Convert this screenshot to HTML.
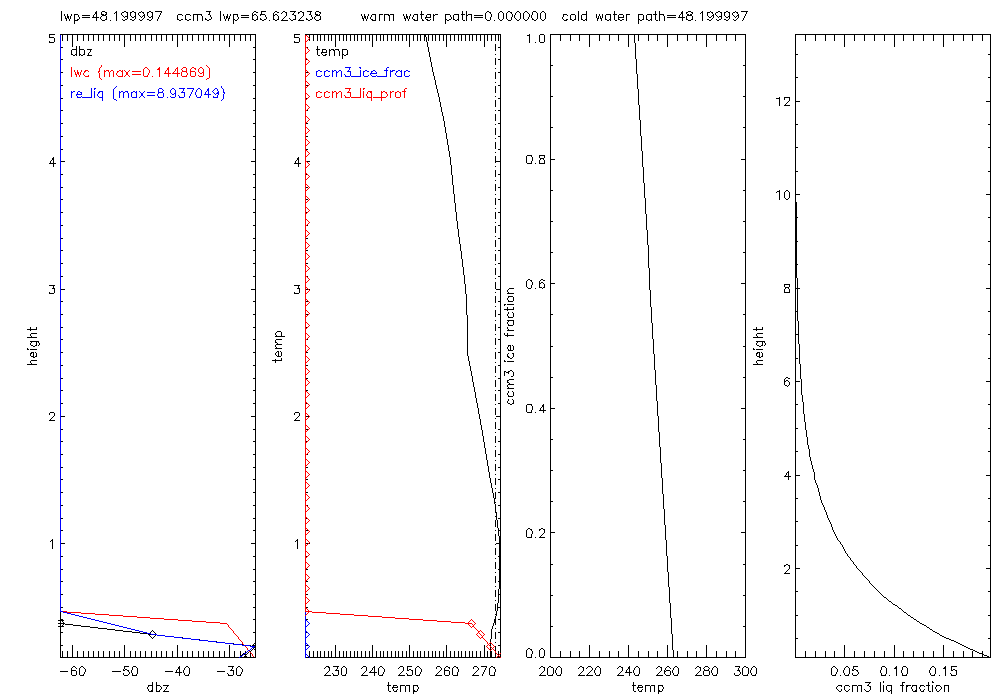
<!DOCTYPE html>
<html><head><meta charset="utf-8"><title>plot</title>
<style>
html,body{margin:0;padding:0;overflow:hidden;width:1000px;height:700px;background:#fff;font-family:"Liberation Sans",sans-serif;}
svg{display:block;}
svg path{fill:none;stroke-width:1;stroke-linecap:butt;}
</style></head><body>
<svg width="1000" height="700" viewBox="0 0 1000 700" shape-rendering="crispEdges">
<rect x="0" y="0" width="1000" height="700" fill="#fff"/>
<path stroke="#000" d="M102 11.5h3M124 11.5h2M132 11.5h2M149 11.5h2M155 11.5h7M206 11.5h5M254 11.5h2M261 11.5h5M275 11.5h2M283 11.5h2M290 11.5h6M300 11.5h2M307 11.5h5M316 11.5h3M487 11.5h2M500 11.5h2M508 11.5h2M517 11.5h2M525 11.5h2M533 11.5h3M542 11.5h2M688 11.5h3M718 11.5h2M726 11.5h2M741 11.5h7M95 12.5h2M105 12.5h2M115 12.5h2M122 12.5h2M126 12.5h2M130 12.5h2M134 12.5h2M139 12.5h2M142 12.5h2M147 12.5h2M151 12.5h2M256 12.5h2M277 12.5h2M285 12.5h2M298 12.5h2M302 12.5h2M319 12.5h2M489 12.5h2M510 12.5h2M681 12.5h2M686 12.5h2M691 12.5h2M701 12.5h2M707 12.5h3M711 12.5h2M716 12.5h2M720 12.5h2M724 12.5h2M728 12.5h2M733 12.5h2M736 12.5h2M95 13.5h2M681 13.5h2M74 14.5h4M101 14.5h3M105 14.5h2M178 14.5h4M186 14.5h4M193 14.5h9M208 14.5h2M233 14.5h5M254 14.5h2M260 14.5h5M275 14.5h2M292 14.5h2M309 14.5h2M315 14.5h3M372 14.5h4M379 14.5h4M384 14.5h5M390 14.5h4M414 14.5h4M420 14.5h4M427 14.5h4M435 14.5h3M445 14.5h5M454 14.5h5M461 14.5h4M468 14.5h4M563 14.5h4M571 14.5h4M582 14.5h5M606 14.5h5M613 14.5h4M619 14.5h4M626 14.5h4M638 14.5h5M647 14.5h5M653 14.5h4M659 14.5h5M687 14.5h2M690 14.5h2M82 15.5h8M102 15.5h4M143 15.5h2M241 15.5h8M252 15.5h2M273 15.5h2M294 15.5h2M316 15.5h4M388 15.5h2M433 15.5h2M466 15.5h2M474 15.5h9M667 15.5h9M687 15.5h5M712 15.5h2M737 15.5h2M67 16.5h2M125 16.5h3M134 16.5h2M151 16.5h2M226 16.5h2M364 16.5h2M406 16.5h2M719 16.5h3M728 16.5h2M67 17.5h2M82 17.5h8M92 17.5h7M132 17.5h2M149 17.5h2M226 17.5h2M241 17.5h8M364 17.5h2M406 17.5h2M425 17.5h6M474 17.5h9M618 17.5h6M667 17.5h9M678 17.5h7M709 17.5h2M726 17.5h2M65 18.5h2M228 18.5h2M362 18.5h2M404 18.5h2M597 18.5h2M600 18.5h2M77 19.5h2M105 19.5h2M125 19.5h2M130 19.5h2M147 19.5h2M177 19.5h2M181 19.5h2M185 19.5h2M189 19.5h2M205 19.5h2M209 19.5h2M233 19.5h2M252 19.5h2M256 19.5h2M260 19.5h2M264 19.5h2M273 19.5h2M277 19.5h2M293 19.5h3M306 19.5h2M310 19.5h2M319 19.5h2M371 19.5h2M413 19.5h2M426 19.5h2M445 19.5h2M449 19.5h2M453 19.5h2M457 19.5h2M532 19.5h2M566 19.5h2M570 19.5h2M574 19.5h2M581 19.5h2M585 19.5h2M605 19.5h2M609 19.5h2M618 19.5h2M622 19.5h2M638 19.5h2M642 19.5h2M646 19.5h2M650 19.5h2M686 19.5h2M691 19.5h2M707 19.5h2M719 19.5h2M724 19.5h2M74 20.5h4M102 20.5h3M123 20.5h2M132 20.5h2M140 20.5h2M149 20.5h2M179 20.5h2M187 20.5h2M207 20.5h2M235 20.5h2M254 20.5h2M262 20.5h2M275 20.5h2M281 20.5h7M291 20.5h2M298 20.5h6M308 20.5h2M316 20.5h3M372 20.5h4M414 20.5h4M422 20.5h2M427 20.5h3M447 20.5h2M455 20.5h2M463 20.5h2M487 20.5h3M500 20.5h2M508 20.5h3M517 20.5h2M525 20.5h2M534 20.5h2M542 20.5h2M564 20.5h3M572 20.5h2M583 20.5h2M607 20.5h2M615 20.5h2M620 20.5h2M640 20.5h2M648 20.5h2M656 20.5h2M688 20.5h3M709 20.5h2M717 20.5h2M726 20.5h2M734 20.5h2M49 34.5h6M60 34.5h196M294 34.5h6M305 34.5h196M540 34.5h4M550 34.5h196M795 34.5h196M424 35.5h2M527 35.5h3M424 36.5h2M49 37.5h5M294 37.5h5M49 42.5h5M294 42.5h5M540 42.5h4M61 47.5h2M253 47.5h3M498 47.5h3M72 49.5h5M79 49.5h5M87 49.5h5M316 49.5h4M322 49.5h4M331 49.5h3M335 49.5h4M342 49.5h5M329 50.5h2M333 50.5h2M321 52.5h6M71 54.5h2M75 54.5h2M79 54.5h2M83 54.5h2M325 54.5h2M342 54.5h2M346 54.5h2M795 54.5h3M988 54.5h3M73 55.5h2M81 55.5h2M87 55.5h5M318 55.5h2M323 55.5h3M344 55.5h2M61 59.5h2M253 59.5h3M498 59.5h3M550 65.5h3M743 65.5h3M61 72.5h2M253 72.5h3M306 72.5h2M498 72.5h3M795 77.5h3M988 77.5h3M61 85.5h2M253 85.5h3M306 85.5h2M498 85.5h3M550 96.5h3M743 96.5h3M784 97.5h6M61 98.5h2M253 98.5h3M498 98.5h3M776 98.5h4M795 101.5h5M986 101.5h5M784 105.5h6M61 110.5h2M253 110.5h3M498 110.5h3M61 123.5h2M253 123.5h3M306 123.5h2M498 123.5h3M795 124.5h3M988 124.5h3M550 127.5h3M743 127.5h3M61 136.5h2M253 136.5h3M306 136.5h2M498 136.5h3M795 147.5h3M988 147.5h3M61 149.5h2M253 149.5h3M306 149.5h2M498 149.5h3M527 155.5h5M539 155.5h6M52 158.5h2M297 158.5h2M540 158.5h4M52 159.5h2M297 159.5h2M550 159.5h5M741 159.5h5M61 161.5h4M251 161.5h5M307 161.5h3M495 161.5h6M49 163.5h7M294 163.5h7M527 163.5h5M539 163.5h6M795 171.5h3M988 171.5h3M61 174.5h2M253 174.5h3M498 174.5h3M61 187.5h2M253 187.5h3M306 187.5h2M498 187.5h3M550 190.5h3M743 190.5h3M786 190.5h2M777 191.5h3M795 194.5h5M986 194.5h5M61 199.5h2M253 199.5h3M306 199.5h2M498 199.5h3M786 199.5h2M795 202.5h2M795 203.5h2M795 204.5h2M795 205.5h2M795 206.5h2M795 207.5h2M795 208.5h2M795 209.5h2M795 210.5h2M795 211.5h2M61 212.5h2M253 212.5h3M498 212.5h3M795 212.5h2M795 213.5h2M795 214.5h2M795 215.5h2M795 216.5h2M795 217.5h3M988 217.5h3M795 218.5h2M795 219.5h2M795 220.5h2M550 221.5h3M743 221.5h3M795 221.5h2M795 222.5h2M795 223.5h2M795 224.5h2M61 225.5h2M253 225.5h3M498 225.5h3M795 225.5h2M795 226.5h2M795 227.5h2M795 228.5h2M795 229.5h2M795 230.5h2M795 231.5h2M795 232.5h2M795 233.5h2M795 234.5h2M795 235.5h2M795 236.5h2M795 237.5h2M61 238.5h2M253 238.5h3M306 238.5h2M498 238.5h3M795 238.5h2M795 239.5h2M795 240.5h2M795 241.5h3M988 241.5h3M795 242.5h2M795 243.5h2M795 244.5h2M795 245.5h2M795 246.5h2M795 247.5h2M795 248.5h2M795 249.5h2M61 250.5h2M253 250.5h3M306 250.5h2M498 250.5h3M795 250.5h2M795 251.5h2M550 252.5h3M743 252.5h3M795 252.5h2M795 253.5h2M795 254.5h2M795 255.5h2M795 256.5h2M795 257.5h2M795 258.5h2M795 259.5h2M795 260.5h2M795 261.5h2M795 262.5h2M61 263.5h2M253 263.5h3M306 263.5h2M498 263.5h3M795 263.5h2M795 264.5h3M988 264.5h3M795 265.5h2M795 266.5h2M795 267.5h2M795 268.5h2M795 269.5h2M795 270.5h2M795 271.5h2M795 272.5h2M795 273.5h2M795 274.5h2M795 275.5h2M61 276.5h2M253 276.5h3M498 276.5h3M795 276.5h2M795 277.5h2M528 279.5h2M541 279.5h2M530 280.5h2M543 280.5h2M541 282.5h2M539 283.5h2M550 283.5h5M741 283.5h5M784 284.5h6M49 285.5h6M294 285.5h6M539 287.5h3M543 287.5h2M785 287.5h4M52 288.5h3M297 288.5h3M509 288.5h5M528 288.5h3M795 288.5h5M986 288.5h5M61 289.5h4M251 289.5h5M306 289.5h2M496 289.5h5M784 292.5h6M49 293.5h5M294 293.5h5M507 293.5h7M508 296.5h5M61 301.5h2M253 301.5h3M306 301.5h2M498 301.5h3M508 301.5h5M504 304.5h2M507 304.5h7M504 309.5h10M795 311.5h3M988 311.5h3M61 314.5h2M253 314.5h3M306 314.5h2M498 314.5h3M550 314.5h3M743 314.5h3M508 317.5h5M507 320.5h7M508 325.5h5M61 327.5h2M253 327.5h3M498 327.5h3M27 329.5h10M753 329.5h10M507 330.5h7M277 331.5h4M31 333.5h6M757 333.5h6M795 334.5h4M988 334.5h3M505 335.5h9M275 336.5h10M27 337.5h10M753 337.5h10M61 339.5h2M253 339.5h3M276 339.5h6M498 339.5h3M30 341.5h9M756 341.5h9M275 342.5h2M276 344.5h6M31 345.5h2M35 345.5h2M508 345.5h3M757 345.5h2M761 345.5h2M33 346.5h2M550 346.5h3M743 346.5h3M759 346.5h2M275 348.5h7M27 349.5h2M30 349.5h7M753 349.5h2M756 349.5h7M508 350.5h5M277 351.5h2M31 352.5h3M61 352.5h2M253 352.5h3M306 352.5h2M498 352.5h3M757 352.5h3M30 353.5h2M512 353.5h2M756 353.5h2M31 356.5h3M35 356.5h2M277 356.5h4M507 356.5h2M757 356.5h3M761 356.5h2M33 357.5h2M508 357.5h2M759 357.5h2M510 358.5h2M795 358.5h3M988 358.5h3M31 360.5h6M272 360.5h10M757 360.5h6M504 361.5h2M507 361.5h7M27 364.5h10M753 364.5h10M61 365.5h2M253 365.5h3M306 365.5h2M498 365.5h3M510 370.5h2M504 371.5h2M508 371.5h2M506 372.5h3M511 376.5h2M550 377.5h3M743 377.5h3M786 377.5h2M61 378.5h2M253 378.5h3M306 378.5h2M498 378.5h3M788 378.5h2M509 379.5h5M507 380.5h2M786 380.5h2M784 381.5h2M795 381.5h5M986 381.5h5M507 382.5h2M508 384.5h6M785 385.5h2M507 388.5h7M61 390.5h2M253 390.5h3M306 390.5h2M498 390.5h3M508 396.5h5M61 403.5h2M253 403.5h3M498 403.5h3M508 403.5h2M512 403.5h2M510 404.5h2M527 404.5h5M795 404.5h3M988 404.5h3M542 405.5h2M542 406.5h2M550 408.5h5M741 408.5h5M539 410.5h7M50 412.5h4M295 412.5h4M527 412.5h5M61 416.5h4M251 416.5h5M306 416.5h3M496 416.5h5M49 420.5h6M294 420.5h6M795 428.5h3M988 428.5h3M61 429.5h2M253 429.5h3M306 429.5h2M498 429.5h3M550 439.5h3M743 439.5h3M61 441.5h2M253 441.5h3M498 441.5h3M795 451.5h3M988 451.5h3M61 454.5h2M253 454.5h3M498 454.5h3M61 467.5h2M253 467.5h3M306 467.5h2M498 467.5h3M550 470.5h3M743 470.5h3M787 472.5h2M795 475.5h5M986 475.5h5M784 476.5h7M61 479.5h2M253 479.5h3M306 479.5h2M498 479.5h3M61 492.5h2M253 492.5h3M306 492.5h2M498 492.5h3M494 498.5h2M795 498.5h3M988 498.5h3M550 501.5h3M743 501.5h3M494 502.5h2M61 505.5h2M253 505.5h3M498 505.5h3M495 512.5h2M495 516.5h2M61 518.5h2M253 518.5h3M498 518.5h3M795 521.5h3M988 521.5h3M528 528.5h2M541 528.5h2M530 529.5h2M539 529.5h2M543 529.5h2M61 530.5h2M253 530.5h3M306 530.5h2M498 530.5h3M550 532.5h5M741 532.5h5M499 536.5h2M499 537.5h2M527 537.5h5M539 537.5h6M499 538.5h2M499 539.5h2M51 540.5h2M296 540.5h2M499 540.5h2M499 541.5h2M499 542.5h2M61 543.5h4M251 543.5h5M306 543.5h2M496 543.5h5M499 544.5h2M499 545.5h2M795 545.5h3M988 545.5h3M499 546.5h2M499 547.5h2M499 548.5h2M499 549.5h2M499 550.5h2M499 551.5h2M499 552.5h2M499 553.5h2M499 554.5h2M499 555.5h2M61 556.5h2M253 556.5h3M498 556.5h3M499 557.5h2M499 558.5h2M499 559.5h2M499 560.5h2M499 561.5h2M499 562.5h2M499 563.5h2M499 564.5h2M550 564.5h3M743 564.5h3M786 564.5h2M499 565.5h2M784 565.5h2M788 565.5h2M499 566.5h2M499 567.5h2M499 568.5h2M795 568.5h5M986 568.5h5M61 569.5h2M253 569.5h3M306 569.5h2M498 569.5h3M499 570.5h2M499 571.5h2M499 572.5h2M499 573.5h2M784 573.5h6M499 574.5h2M499 575.5h2M499 576.5h2M499 577.5h2M499 578.5h2M499 579.5h2M499 580.5h2M61 581.5h2M253 581.5h3M306 581.5h2M498 581.5h3M499 582.5h2M499 583.5h2M499 584.5h2M499 585.5h2M499 586.5h2M499 587.5h2M499 588.5h2M795 591.5h3M988 591.5h3M61 594.5h2M253 594.5h3M306 594.5h2M498 594.5h3M550 595.5h3M743 595.5h3M884 597.5h2M889 601.5h2M893 604.5h2M895 605.5h2M61 607.5h2M253 607.5h3M306 607.5h2M497 607.5h4M899 608.5h2M904 612.5h2M495 614.5h2M795 615.5h3M908 615.5h2M988 615.5h3M911 617.5h2M60 619.5h3M253 619.5h3M306 619.5h2M494 619.5h2M498 619.5h3M914 619.5h2M58 620.5h6M494 620.5h2M494 621.5h2M917 621.5h2M494 622.5h2M58 623.5h7M920 623.5h2M65 624.5h8M922 624.5h2M73 625.5h8M924 625.5h2M58 626.5h6M81 626.5h9M550 626.5h3M743 626.5h3M90 627.5h8M927 627.5h2M98 628.5h9M107 629.5h8M930 629.5h2M115 630.5h8M123 631.5h9M933 631.5h2M60 632.5h3M132 632.5h8M253 632.5h3M498 632.5h3M935 632.5h2M140 633.5h7M937 633.5h2M148 634.5h3M940 635.5h2M942 636.5h2M944 637.5h2M795 638.5h3M946 638.5h3M988 638.5h3M949 639.5h2M951 640.5h3M954 641.5h2M956 642.5h2M254 643.5h2M958 643.5h2M960 644.5h2M60 645.5h3M252 645.5h4M306 645.5h2M498 645.5h3M962 645.5h2M964 646.5h2M254 647.5h2M966 647.5h2M528 648.5h2M541 648.5h2M968 648.5h2M254 649.5h2M530 649.5h2M970 649.5h3M973 650.5h2M490 651.5h2M975 651.5h2M490 652.5h2M977 652.5h2M490 653.5h2M979 653.5h4M244 654.5h3M490 654.5h2M982 654.5h2M240 655.5h2M490 655.5h2M984 655.5h3M244 656.5h3M490 656.5h2M987 656.5h2M60 657.5h179M240 657.5h16M306 657.5h3M310 657.5h186M497 657.5h3M527 657.5h5M540 657.5h4M550 657.5h196M795 657.5h196M73 666.5h2M81 666.5h2M124 666.5h5M133 666.5h3M186 666.5h2M228 666.5h6M238 666.5h2M326 666.5h3M333 666.5h6M343 666.5h2M363 666.5h3M380 666.5h2M400 666.5h3M407 666.5h5M417 666.5h2M437 666.5h3M446 666.5h2M454 666.5h2M474 666.5h3M481 666.5h6M491 666.5h2M541 666.5h2M549 666.5h2M558 666.5h2M580 666.5h2M588 666.5h3M597 666.5h2M619 666.5h2M636 666.5h2M658 666.5h2M667 666.5h2M675 666.5h2M697 666.5h2M705 666.5h3M714 666.5h2M735 666.5h5M744 666.5h2M753 666.5h2M833 666.5h2M846 666.5h2M853 666.5h5M882 666.5h3M903 666.5h3M932 666.5h2M951 666.5h6M178 667.5h2M328 667.5h2M373 667.5h2M448 667.5h2M456 667.5h2M493 667.5h2M543 667.5h2M551 667.5h2M582 667.5h2M621 667.5h2M628 667.5h2M660 667.5h2M699 667.5h2M746 667.5h2M895 667.5h2M944 667.5h2M178 668.5h2M628 668.5h2M894 668.5h3M943 668.5h3M125 669.5h2M409 669.5h2M854 669.5h2M953 669.5h2M71 670.5h5M123 670.5h2M127 670.5h2M230 670.5h4M335 670.5h4M407 670.5h2M411 670.5h2M444 670.5h5M666 670.5h4M704 670.5h5M737 670.5h3M852 670.5h2M856 670.5h2M951 670.5h2M955 670.5h2M60 671.5h8M112 671.5h9M165 671.5h8M217 671.5h8M664 671.5h2M175 672.5h7M369 672.5h8M625 672.5h7M72 675.5h4M80 675.5h4M124 675.5h4M132 675.5h5M185 675.5h4M228 675.5h5M237 675.5h4M324 675.5h7M333 675.5h5M342 675.5h4M361 675.5h7M379 675.5h4M398 675.5h7M407 675.5h5M416 675.5h4M435 675.5h7M445 675.5h4M453 675.5h5M472 675.5h7M490 675.5h5M539 675.5h7M548 675.5h5M557 675.5h4M578 675.5h7M586 675.5h7M596 675.5h4M617 675.5h7M635 675.5h4M656 675.5h7M666 675.5h4M674 675.5h4M695 675.5h7M704 675.5h5M713 675.5h4M735 675.5h4M743 675.5h5M752 675.5h4M832 675.5h4M845 675.5h4M853 675.5h4M881 675.5h5M902 675.5h5M931 675.5h4M951 675.5h5M865 682.5h6M902 682.5h3M932 682.5h2M148 685.5h5M156 685.5h4M163 685.5h6M387 685.5h4M393 685.5h4M400 685.5h5M406 685.5h4M413 685.5h5M632 685.5h4M638 685.5h4M645 685.5h5M651 685.5h4M658 685.5h5M838 685.5h4M845 685.5h4M852 685.5h5M858 685.5h4M867 685.5h2M887 685.5h5M900 685.5h4M906 685.5h5M912 685.5h5M920 685.5h4M926 685.5h4M936 685.5h4M944 685.5h5M869 686.5h2M906 686.5h2M392 687.5h6M637 687.5h6M151 690.5h2M413 690.5h2M658 690.5h2M890 690.5h2M915 690.5h2M149 691.5h4M156 691.5h4M163 691.5h6M389 691.5h2M394 691.5h3M413 691.5h4M634 691.5h2M639 691.5h3M658 691.5h4M839 691.5h2M846 691.5h2M866 691.5h3M888 691.5h2M913 691.5h4M921 691.5h3M929 691.5h2M937 691.5h2M27.5 348v1M30.5 327v2M30.5 330v1M30.5 334v2M30.5 343v2M30.5 354v2M30.5 361v2M31.5 336v1M31.5 342v1M31.5 363v1M33.5 353v3M35.5 352v1M36.5 327v2M36.5 342v3M36.5 353v3M38.5 342v1M38.5 345v1M39.5 343v2M49.5 35v2M49.5 41v1M49.5 292v1M49.5 413v2M50.5 161v2M50.5 419v1M50.5 541v1M51.5 160v1M51.5 418v1M52.5 417v1M52.5 539v1M52.5 541v8M53.5 157v1M53.5 160v3M53.5 164v3M53.5 286v2M53.5 416v1M54.5 38v4M54.5 289v4M54.5 413v3M60.5 612v7M60.5 621v2M60.5 624v2M60.5 627v5M60.5 633v12M60.5 646v11M61.5 11v10M62.5 35v6M62.5 621v1M62.5 625v1M62.5 651v6M63.5 622v1M63.5 624v1M64.5 14v2M65.5 16v2M66.5 19v2M67.5 14v2M67.5 35v6M67.5 651v6M68.5 18v1M69.5 19v2M70.5 16v3M71.5 14v2M71.5 50v4M71.5 668v2M71.5 671v4M72.5 35v12M72.5 645v12M72.5 667v1M74.5 15v5M74.5 21v3M75.5 667v1M76.5 46v3M76.5 50v4M76.5 55v1M76.5 668v1M76.5 671v4M77.5 35v6M77.5 651v6M78.5 15v2M79.5 17v2M79.5 46v3M79.5 50v4M79.5 55v1M79.5 668v7M80.5 667v1M83.5 35v6M83.5 651v6M83.5 667v1M83.5 674v1M84.5 50v4M84.5 668v1M84.5 672v2M85.5 669v3M88.5 35v6M88.5 53v2M88.5 651v6M89.5 52v1M90.5 50v2M93.5 15v2M93.5 35v6M93.5 651v6M94.5 14v1M96.5 11v1M96.5 14v3M96.5 18v3M98.5 35v6M98.5 651v6M100.5 17v2M101.5 12v2M101.5 16v1M101.5 19v1M103.5 35v6M103.5 651v6M106.5 13v1M106.5 16v3M109.5 35v6M109.5 651v6M110.5 20v1M114.5 13v1M114.5 35v6M114.5 651v6M116.5 11v1M116.5 13v8M119.5 35v6M119.5 651v6M121.5 13v2M122.5 15v1M122.5 19v1M123.5 16v1M123.5 669v1M123.5 673v2M124.5 17v1M124.5 35v12M124.5 645v12M124.5 667v2M127.5 13v3M127.5 17v2M128.5 671v1M128.5 674v1M129.5 672v2M130.5 13v3M130.5 35v6M130.5 651v6M131.5 16v1M131.5 670v3M132.5 667v3M132.5 673v2M134.5 19v1M135.5 13v3M135.5 17v2M135.5 35v6M135.5 651v6M136.5 667v1M136.5 674v1M137.5 668v6M138.5 13v2M139.5 15v1M139.5 19v1M140.5 16v1M140.5 35v6M140.5 651v6M141.5 11v1M141.5 17v1M142.5 16v1M142.5 19v1M143.5 13v1M143.5 18v1M144.5 14v1M144.5 16v2M145.5 35v6M145.5 651v6M147.5 13v3M147.5 687v2M148.5 16v1M148.5 686v1M148.5 689v2M149.5 635v1M150.5 632v1M150.5 636v1M151.5 19v1M151.5 35v6M151.5 631v1M151.5 637v1M151.5 651v6M152.5 13v3M152.5 17v2M152.5 630v1M152.5 638v1M152.5 682v3M152.5 686v4M153.5 631v1M153.5 637v1M154.5 632v1M154.5 636v1M155.5 633v1M155.5 635v1M156.5 35v6M156.5 651v6M156.5 682v3M156.5 686v5M157.5 19v2M158.5 17v2M159.5 15v2M159.5 690v1M160.5 13v2M160.5 686v1M160.5 689v1M161.5 12v1M161.5 35v6M161.5 651v6M161.5 687v2M164.5 690v1M165.5 689v1M166.5 35v6M166.5 651v6M166.5 687v2M167.5 686v1M172.5 35v6M172.5 651v6M176.5 670v2M177.5 15v4M177.5 35v12M177.5 645v12M177.5 669v1M179.5 666v1M179.5 669v3M179.5 673v3M182.5 15v1M182.5 35v6M182.5 637v1M182.5 651v6M183.5 670v3M184.5 668v2M184.5 673v2M185.5 15v4M185.5 667v1M187.5 35v6M187.5 651v6M188.5 667v1M188.5 674v1M189.5 668v6M190.5 15v1M192.5 35v6M192.5 651v6M193.5 15v6M197.5 15v6M198.5 35v6M198.5 651v6M199.5 639v1M201.5 15v1M202.5 16v5M203.5 35v6M203.5 651v6M205.5 18v1M208.5 35v6M208.5 651v6M209.5 12v2M210.5 15v2M211.5 17v2M213.5 35v6M213.5 651v6M216.5 641v1M219.5 35v6M219.5 651v6M220.5 11v10M223.5 14v2M224.5 16v3M224.5 35v6M224.5 651v6M225.5 19v2M226.5 18v1M227.5 14v2M227.5 673v1M228.5 19v2M228.5 674v1M229.5 16v2M229.5 35v12M229.5 645v12M230.5 14v2M231.5 669v1M232.5 667v2M233.5 15v4M233.5 20v4M233.5 643v1M233.5 671v4M234.5 35v6M234.5 651v6M236.5 668v7M237.5 15v2M237.5 19v1M237.5 667v1M238.5 17v2M240.5 35v6M240.5 651v4M240.5 667v1M240.5 674v1M241.5 668v1M241.5 672v2M242.5 644v1M242.5 654v1M242.5 669v3M243.5 653v1M245.5 35v6M245.5 651v2M245.5 655v1M247.5 653v1M248.5 652v1M250.5 35v6M250.5 645v1M250.5 651v1M250.5 653v4M251.5 650v1M252.5 13v2M252.5 16v3M252.5 649v1M253.5 12v1M253.5 644v1M253.5 648v1M255.5 35v12M255.5 48v11M255.5 60v12M255.5 73v12M255.5 86v12M255.5 99v11M255.5 111v12M255.5 124v12M255.5 137v12M255.5 150v11M255.5 162v12M255.5 175v12M255.5 188v11M255.5 200v12M255.5 213v12M255.5 226v12M255.5 239v11M255.5 251v12M255.5 264v12M255.5 277v12M255.5 290v11M255.5 302v12M255.5 315v12M255.5 328v11M255.5 340v12M255.5 353v12M255.5 366v12M255.5 379v11M255.5 391v12M255.5 404v12M255.5 417v12M255.5 430v11M255.5 442v12M255.5 455v12M255.5 468v11M255.5 480v12M255.5 493v12M255.5 506v12M255.5 519v11M255.5 531v12M255.5 544v12M255.5 557v12M255.5 570v11M255.5 582v12M255.5 595v12M255.5 608v11M255.5 620v12M255.5 633v10M255.5 644v1M255.5 646v1M255.5 648v1M255.5 650v7M256.5 15v1M257.5 16v3M260.5 15v1M260.5 18v1M261.5 12v2M265.5 15v2M266.5 17v2M269.5 20v1M273.5 13v2M273.5 16v3M274.5 12v1M275.5 333v2M275.5 340v2M275.5 345v2M275.5 353v2M275.5 359v1M275.5 361v2M276.5 332v1M276.5 335v1M276.5 347v1M276.5 352v1M276.5 355v1M277.5 15v1M277.5 343v1M278.5 16v3M278.5 352v4M280.5 351v1M281.5 13v1M281.5 332v4M281.5 352v4M281.5 358v2M282.5 12v1M282.5 19v1M283.5 18v1M284.5 17v1M285.5 16v1M286.5 13v3M289.5 18v1M290.5 19v1M293.5 13v1M294.5 12v1M294.5 35v2M294.5 41v1M294.5 292v1M294.5 413v2M295.5 16v3M295.5 161v2M295.5 419v1M295.5 541v1M296.5 160v1M296.5 418v1M297.5 417v1M297.5 539v1M297.5 541v8M298.5 13v1M298.5 157v1M298.5 160v3M298.5 164v3M298.5 286v2M298.5 416v1M299.5 19v1M299.5 38v4M299.5 289v4M299.5 413v3M300.5 18v1M301.5 17v1M302.5 16v1M303.5 13v3M306.5 18v1M306.5 59v1M306.5 98v1M306.5 174v1M306.5 212v1M306.5 327v1M306.5 403v1M306.5 441v1M306.5 518v1M306.5 556v1M306.5 632v1M307.5 47v1M307.5 110v1M307.5 225v1M307.5 276v1M307.5 339v1M307.5 454v1M307.5 505v1M309.5 35v3M309.5 39v2M309.5 289v1M309.5 543v1M309.5 651v6M310.5 12v2M311.5 15v2M312.5 17v2M313.5 35v6M313.5 651v6M314.5 17v2M315.5 12v2M315.5 16v1M315.5 19v1M317.5 35v6M317.5 46v3M317.5 50v5M317.5 651v6M319.5 14v1M320.5 13v1M320.5 16v3M320.5 35v6M320.5 651v6M321.5 53v1M322.5 50v2M322.5 54v1M324.5 35v6M324.5 651v6M324.5 668v1M325.5 667v1M325.5 674v1M326.5 50v2M326.5 673v1M327.5 672v1M328.5 35v6M328.5 651v6M328.5 671v1M329.5 49v1M329.5 51v5M329.5 668v3M331.5 35v6M331.5 651v6M332.5 673v1M333.5 674v1M334.5 51v5M335.5 35v12M335.5 645v12M336.5 669v1M337.5 667v2M338.5 50v1M338.5 671v4M339.5 35v6M339.5 51v5M339.5 651v6M341.5 668v7M342.5 50v4M342.5 55v4M342.5 667v1M343.5 35v6M343.5 651v6M345.5 667v1M345.5 674v1M346.5 35v6M346.5 651v6M346.5 668v6M347.5 50v4M350.5 35v6M350.5 651v6M354.5 35v6M354.5 651v6M357.5 35v6M357.5 651v6M361.5 14v2M361.5 35v6M361.5 651v6M361.5 668v1M362.5 16v2M362.5 667v1M362.5 674v1M363.5 19v2M363.5 673v1M364.5 14v2M364.5 672v1M365.5 18v1M365.5 35v6M365.5 651v6M365.5 671v1M366.5 19v2M366.5 667v4M367.5 16v3M368.5 14v2M369.5 35v6M369.5 651v6M370.5 17v2M370.5 671v1M371.5 15v2M371.5 670v1M372.5 35v12M372.5 645v12M372.5 668v2M374.5 666v1M374.5 668v4M374.5 673v3M375.5 15v5M376.5 35v6M376.5 651v6M378.5 668v7M379.5 15v6M379.5 667v1M380.5 35v6M380.5 651v6M382.5 667v1M382.5 674v1M383.5 35v6M383.5 651v6M383.5 668v1M383.5 672v2M384.5 15v6M384.5 669v3M387.5 35v6M387.5 651v6M388.5 682v3M388.5 686v5M389.5 16v5M391.5 35v6M391.5 651v6M392.5 688v1M393.5 15v6M393.5 686v1M393.5 689v2M395.5 35v6M395.5 651v6M396.5 690v1M397.5 686v1M397.5 689v1M398.5 35v6M398.5 651v6M398.5 668v1M399.5 667v1M399.5 674v1M400.5 673v1M400.5 686v6M401.5 672v1M402.5 35v6M402.5 651v6M402.5 671v1M403.5 14v2M403.5 667v4M404.5 16v2M405.5 19v2M405.5 686v6M406.5 14v2M406.5 35v6M406.5 651v6M406.5 673v1M407.5 18v1M407.5 667v3M407.5 674v1M408.5 19v2M409.5 16v3M409.5 35v12M409.5 645v12M409.5 686v6M410.5 14v2M412.5 17v2M412.5 671v4M413.5 15v2M413.5 35v6M413.5 651v6M413.5 686v4M413.5 692v2M415.5 668v7M416.5 667v1M417.5 15v5M417.5 35v6M417.5 651v6M417.5 686v1M417.5 689v2M418.5 687v2M419.5 667v1M419.5 674v1M420.5 35v6M420.5 651v6M420.5 668v1M420.5 672v2M421.5 11v3M421.5 15v4M421.5 669v3M422.5 19v1M424.5 37v4M424.5 651v6M425.5 18v1M426.5 15v2M426.5 37v5M427.5 42v5M428.5 35v6M428.5 47v5M428.5 651v6M429.5 52v5M430.5 15v2M430.5 19v1M430.5 57v5M431.5 62v5M432.5 35v6M432.5 67v5M432.5 651v6M433.5 14v1M433.5 16v5M433.5 72v4M434.5 76v4M435.5 35v6M435.5 80v5M435.5 651v6M436.5 85v4M436.5 667v2M436.5 674v1M437.5 89v4M437.5 673v1M438.5 93v4M438.5 672v1M439.5 35v6M439.5 97v5M439.5 651v6M439.5 671v1M440.5 102v5M440.5 667v1M440.5 670v1M441.5 107v5M441.5 668v2M442.5 112v4M443.5 35v6M443.5 116v5M443.5 651v6M444.5 121v6M444.5 668v2M444.5 671v4M445.5 15v4M445.5 20v4M445.5 127v6M445.5 667v1M446.5 35v12M446.5 133v6M446.5 645v12M447.5 139v6M448.5 145v6M449.5 151v6M449.5 668v1M449.5 671v4M450.5 15v2M450.5 35v6M450.5 157v8M450.5 651v6M451.5 17v2M451.5 165v10M452.5 175v10M452.5 668v7M453.5 15v4M453.5 185v9M453.5 667v1M454.5 35v6M454.5 194v9M454.5 651v6M455.5 203v9M456.5 212v9M457.5 221v8M457.5 668v1M457.5 672v3M458.5 15v4M458.5 20v1M458.5 35v6M458.5 229v8M458.5 651v6M458.5 669v3M459.5 237v7M460.5 244v7M461.5 35v6M461.5 251v8M461.5 651v6M462.5 11v3M462.5 15v5M462.5 259v8M463.5 267v8M464.5 275v9M465.5 35v6M465.5 284v10M465.5 651v6M466.5 11v4M466.5 16v5M466.5 294v21M467.5 315v41M468.5 356v5M469.5 35v6M469.5 361v5M469.5 651v6M470.5 366v5M471.5 15v6M471.5 371v5M472.5 35v6M472.5 376v6M472.5 651v6M473.5 382v5M473.5 667v2M473.5 674v1M474.5 387v5M474.5 673v1M475.5 392v6M475.5 672v1M476.5 35v6M476.5 398v5M476.5 651v6M476.5 671v1M477.5 403v5M477.5 667v1M477.5 670v1M478.5 408v6M478.5 668v2M479.5 414v5M480.5 35v6M480.5 419v6M480.5 651v6M481.5 425v5M482.5 430v6M482.5 674v2M483.5 436v6M483.5 672v2M484.5 35v12M484.5 442v6M484.5 645v12M484.5 670v2M485.5 13v6M485.5 448v6M485.5 668v2M486.5 12v1M486.5 19v1M486.5 454v6M486.5 667v1M487.5 35v6M487.5 460v6M487.5 651v6M488.5 466v6M489.5 472v6M489.5 668v7M490.5 13v1M490.5 17v3M490.5 478v5M490.5 639v3M490.5 643v3M490.5 647v3M490.5 667v1M491.5 14v3M491.5 35v6M491.5 483v5M491.5 629v10M492.5 488v5M492.5 626v3M493.5 493v5M493.5 623v3M494.5 20v1M494.5 499v3M494.5 503v1M494.5 668v1M494.5 672v3M495.5 35v6M495.5 44v7M495.5 54v1M495.5 58v7M495.5 68v1M495.5 72v7M495.5 82v1M495.5 86v7M495.5 96v1M495.5 100v7M495.5 110v1M495.5 114v7M495.5 124v1M495.5 128v7M495.5 138v1M495.5 142v7M495.5 152v1M495.5 156v5M495.5 162v1M495.5 166v1M495.5 170v7M495.5 180v1M495.5 184v7M495.5 194v1M495.5 198v7M495.5 208v1M495.5 212v7M495.5 222v1M495.5 226v7M495.5 236v1M495.5 240v7M495.5 250v1M495.5 254v7M495.5 264v1M495.5 268v7M495.5 278v1M495.5 282v7M495.5 292v1M495.5 296v7M495.5 306v1M495.5 310v7M495.5 320v1M495.5 324v7M495.5 334v1M495.5 338v7M495.5 348v1M495.5 352v7M495.5 362v1M495.5 366v7M495.5 376v1M495.5 380v7M495.5 390v1M495.5 394v7M495.5 404v1M495.5 408v7M495.5 418v1M495.5 422v7M495.5 432v1M495.5 436v7M495.5 446v1M495.5 450v7M495.5 460v1M495.5 464v7M495.5 474v1M495.5 478v7M495.5 488v1M495.5 492v6M495.5 504v8M495.5 520v7M495.5 530v1M495.5 534v7M495.5 544v1M495.5 548v7M495.5 558v1M495.5 562v7M495.5 572v1M495.5 576v7M495.5 586v1M495.5 590v7M495.5 600v1M495.5 604v7M495.5 616v3M495.5 623v2M495.5 628v1M495.5 632v7M495.5 642v1M495.5 646v5M495.5 653v4M495.5 669v3M496.5 513v3M496.5 517v3M496.5 611v3M496.5 615v1M497.5 520v8M497.5 603v4M497.5 608v3M498.5 13v6M498.5 35v6M498.5 528v2M498.5 531v5M498.5 589v5M498.5 595v8M498.5 651v4M498.5 656v1M499.5 12v1M499.5 19v1M500.5 35v12M500.5 48v11M500.5 60v12M500.5 73v12M500.5 86v12M500.5 99v11M500.5 111v12M500.5 124v12M500.5 137v12M500.5 150v11M500.5 162v12M500.5 175v12M500.5 188v11M500.5 200v12M500.5 213v12M500.5 226v12M500.5 239v11M500.5 251v12M500.5 264v12M500.5 277v12M500.5 290v11M500.5 302v12M500.5 315v12M500.5 328v11M500.5 340v12M500.5 353v12M500.5 366v12M500.5 379v11M500.5 391v12M500.5 404v12M500.5 417v12M500.5 430v11M500.5 442v12M500.5 455v12M500.5 468v11M500.5 480v12M500.5 493v12M500.5 506v12M500.5 519v11M500.5 531v5M500.5 589v5M500.5 595v12M500.5 608v11M500.5 620v12M500.5 633v12M500.5 646v7M500.5 654v3M502.5 12v1M502.5 19v1M503.5 13v6M504.5 305v1M504.5 333v2M504.5 360v1M504.5 372v4M506.5 13v6M507.5 12v1M507.5 19v1M507.5 290v2M507.5 298v2M507.5 307v2M507.5 310v1M507.5 314v2M507.5 322v2M507.5 327v2M507.5 333v2M507.5 336v1M507.5 347v2M507.5 354v2M507.5 381v1M507.5 385v2M507.5 393v2M507.5 401v2M508.5 289v1M508.5 292v1M508.5 297v1M508.5 300v1M508.5 312v2M508.5 316v1M508.5 321v1M508.5 324v1M508.5 329v1M508.5 346v1M508.5 349v1M508.5 353v1M508.5 373v1M508.5 387v1M508.5 391v2M508.5 395v1M508.5 399v2M509.5 383v1M510.5 346v4M511.5 13v1M511.5 17v3M512.5 14v3M512.5 312v1M512.5 345v1M512.5 357v1M512.5 371v1M512.5 391v1M512.5 399v1M513.5 297v4M513.5 307v2M513.5 313v4M513.5 321v4M513.5 346v4M513.5 354v3M513.5 372v4M513.5 392v4M513.5 400v3M514.5 15v3M515.5 13v2M515.5 18v1M516.5 12v1M516.5 19v1M519.5 12v1M519.5 19v1M520.5 13v6M523.5 13v6M524.5 12v1M524.5 19v1M526.5 156v7M526.5 281v6M526.5 405v7M526.5 530v7M526.5 650v7M527.5 12v1M527.5 19v1M527.5 280v1M527.5 287v1M527.5 529v1M527.5 649v1M528.5 13v1M528.5 17v2M529.5 14v3M529.5 34v1M529.5 36v7M531.5 15v3M531.5 156v1M531.5 161v2M531.5 281v1M531.5 285v3M531.5 405v1M531.5 410v2M531.5 530v1M531.5 534v3M531.5 650v1M531.5 654v3M532.5 12v3M532.5 18v1M532.5 157v4M532.5 282v3M532.5 406v4M532.5 531v3M532.5 651v3M535.5 42v1M535.5 163v1M535.5 288v1M535.5 412v1M535.5 537v1M535.5 657v1M536.5 12v1M536.5 19v1M537.5 13v6M539.5 35v7M539.5 156v2M539.5 160v3M539.5 281v2M539.5 284v3M539.5 530v1M539.5 650v7M539.5 668v1M540.5 13v6M540.5 159v1M540.5 280v1M540.5 408v2M540.5 536v1M540.5 649v1M540.5 667v1M540.5 674v1M541.5 12v1M541.5 19v1M541.5 407v1M541.5 535v1M541.5 673v1M542.5 288v1M542.5 534v1M542.5 672v1M543.5 159v1M543.5 283v1M543.5 404v1M543.5 407v3M543.5 411v2M543.5 533v1M543.5 649v1M543.5 656v1M543.5 671v1M544.5 12v1M544.5 19v1M544.5 35v7M544.5 156v2M544.5 160v3M544.5 284v3M544.5 530v3M544.5 650v6M544.5 668v3M545.5 13v6M547.5 668v7M548.5 667v1M550.5 35v30M550.5 66v30M550.5 97v30M550.5 128v31M550.5 160v30M550.5 191v30M550.5 222v30M550.5 253v30M550.5 284v30M550.5 315v31M550.5 347v30M550.5 378v30M550.5 409v30M550.5 440v30M550.5 471v30M550.5 502v30M550.5 533v31M550.5 565v30M550.5 596v30M550.5 627v30M552.5 674v1M553.5 668v6M555.5 670v3M556.5 668v2M556.5 673v2M557.5 667v1M560.5 35v6M560.5 651v6M560.5 667v1M560.5 674v1M561.5 668v6M562.5 17v2M563.5 15v2M563.5 19v1M567.5 15v1M570.5 15v4M570.5 35v6M570.5 651v6M575.5 15v4M578.5 11v10M578.5 668v1M579.5 35v6M579.5 651v6M579.5 667v1M579.5 674v1M580.5 673v1M581.5 15v4M581.5 672v1M582.5 671v1M583.5 668v3M586.5 11v3M586.5 15v4M586.5 20v1M586.5 668v1M587.5 667v1M587.5 674v1M588.5 673v1M589.5 35v12M589.5 645v12M589.5 672v1M590.5 671v1M591.5 667v1M591.5 670v1M592.5 668v2M594.5 670v3M595.5 668v2M595.5 673v2M596.5 14v4M596.5 667v1M597.5 19v2M598.5 16v2M599.5 14v2M599.5 35v6M599.5 651v6M599.5 667v1M599.5 674v1M600.5 16v2M600.5 668v6M601.5 19v2M602.5 14v4M605.5 15v4M609.5 35v6M609.5 651v6M610.5 15v4M610.5 20v1M614.5 11v3M614.5 15v5M617.5 668v1M618.5 15v2M618.5 18v1M618.5 35v6M618.5 651v6M618.5 667v1M618.5 674v1M619.5 673v1M620.5 672v1M621.5 671v1M622.5 668v3M623.5 15v2M626.5 15v6M626.5 670v2M627.5 669v1M628.5 35v12M628.5 645v12M629.5 666v1M629.5 669v3M629.5 673v3M633.5 670v3M633.5 682v3M633.5 686v5M634.5 35v8M634.5 668v2M634.5 673v2M635.5 43v16M635.5 667v1M636.5 59v15M637.5 74v15M637.5 688v1M638.5 15v4M638.5 20v4M638.5 35v6M638.5 89v16M638.5 651v6M638.5 667v1M638.5 674v1M638.5 686v1M638.5 689v2M639.5 105v15M639.5 668v6M640.5 120v16M641.5 136v15M641.5 690v1M642.5 151v16M642.5 686v1M642.5 689v1M643.5 15v4M643.5 167v16M644.5 183v15M645.5 198v16M645.5 686v6M646.5 15v4M646.5 214v16M647.5 230v15M648.5 35v6M648.5 245v23M648.5 651v6M649.5 268v22M650.5 290v17M650.5 686v6M651.5 15v4M651.5 20v1M651.5 307v16M652.5 323v16M653.5 339v15M654.5 354v16M654.5 686v6M655.5 11v3M655.5 15v5M655.5 370v15M656.5 385v16M656.5 668v1M657.5 35v6M657.5 401v15M657.5 651v6M657.5 667v1M657.5 674v1M658.5 416v16M658.5 673v1M658.5 686v4M658.5 692v2M659.5 11v3M659.5 15v6M659.5 432v15M659.5 672v1M660.5 447v16M660.5 671v1M661.5 463v15M661.5 668v3M662.5 478v16M662.5 686v1M662.5 689v2M663.5 15v1M663.5 494v15M663.5 687v2M664.5 16v5M664.5 509v16M664.5 670v1M664.5 672v2M665.5 525v15M665.5 668v2M665.5 674v1M666.5 540v16M666.5 667v1M667.5 35v12M667.5 556v16M667.5 645v12M668.5 572v15M669.5 587v16M669.5 667v1M670.5 603v15M670.5 668v1M670.5 671v4M671.5 618v16M672.5 634v16M672.5 670v3M673.5 650v7M673.5 668v2M673.5 673v2M674.5 667v1M677.5 35v6M677.5 651v6M677.5 667v1M677.5 674v1M678.5 668v6M679.5 15v2M680.5 14v1M682.5 11v1M682.5 14v3M682.5 18v3M686.5 13v1M686.5 16v3M687.5 35v6M687.5 651v6M692.5 13v1M692.5 16v3M695.5 20v1M695.5 668v1M696.5 35v6M696.5 651v6M696.5 667v1M696.5 674v1M697.5 673v1M698.5 672v1M699.5 671v1M700.5 13v1M700.5 668v3M702.5 11v1M702.5 13v8M703.5 668v1M703.5 671v4M704.5 667v1M704.5 669v1M706.5 35v12M706.5 645v12M707.5 13v3M708.5 16v1M708.5 667v1M708.5 669v1M709.5 668v1M709.5 671v4M710.5 11v1M711.5 16v1M711.5 19v1M711.5 670v3M712.5 13v1M712.5 18v1M712.5 668v2M712.5 673v2M713.5 14v1M713.5 16v2M713.5 667v1M715.5 13v2M716.5 15v1M716.5 19v1M716.5 35v6M716.5 651v6M716.5 667v1M716.5 674v1M717.5 16v1M717.5 668v6M718.5 17v1M721.5 13v3M721.5 17v2M724.5 13v3M725.5 16v1M726.5 35v6M726.5 651v6M728.5 19v1M729.5 13v3M729.5 17v2M732.5 13v2M733.5 15v1M733.5 19v1M734.5 16v1M734.5 673v2M735.5 11v1M735.5 17v1M735.5 35v6M735.5 651v6M736.5 16v1M736.5 19v1M737.5 13v1M737.5 18v1M738.5 14v1M738.5 16v2M738.5 668v2M739.5 667v1M739.5 671v1M739.5 674v1M740.5 672v2M742.5 20v1M742.5 668v7M743.5 18v2M743.5 667v1M744.5 16v2M745.5 14v2M745.5 35v30M745.5 66v30M745.5 97v30M745.5 128v31M745.5 160v30M745.5 191v30M745.5 222v30M745.5 253v30M745.5 284v30M745.5 315v31M745.5 347v30M745.5 378v30M745.5 409v30M745.5 440v30M745.5 471v30M745.5 502v30M745.5 533v31M745.5 565v30M745.5 596v30M745.5 627v30M746.5 12v2M747.5 674v1M748.5 668v6M750.5 670v3M751.5 668v2M751.5 673v2M752.5 667v1M753.5 348v1M755.5 667v1M755.5 674v1M756.5 327v2M756.5 330v1M756.5 334v2M756.5 343v2M756.5 354v2M756.5 361v2M756.5 668v6M757.5 336v1M757.5 342v1M757.5 363v1M759.5 353v3M761.5 352v1M762.5 327v2M762.5 342v3M762.5 353v3M764.5 342v1M764.5 345v1M765.5 343v2M776.5 192v1M779.5 97v1M779.5 99v7M779.5 190v1M779.5 192v8M784.5 98v2M784.5 192v6M784.5 285v2M784.5 289v3M784.5 379v2M784.5 382v3M784.5 566v1M785.5 104v1M785.5 191v1M785.5 198v1M785.5 288v1M785.5 378v1M785.5 475v1M785.5 572v1M786.5 103v1M786.5 473v2M786.5 571v1M787.5 102v1M787.5 386v1M787.5 570v1M788.5 101v1M788.5 191v1M788.5 198v1M788.5 288v1M788.5 381v1M788.5 385v1M788.5 471v1M788.5 473v3M788.5 477v3M788.5 569v1M789.5 98v3M789.5 192v6M789.5 285v2M789.5 289v3M789.5 382v3M789.5 566v3M795.5 35v19M795.5 55v22M795.5 78v23M795.5 102v22M795.5 125v22M795.5 148v23M795.5 172v22M795.5 195v7M795.5 278v10M795.5 289v22M795.5 312v22M795.5 335v23M795.5 359v22M795.5 382v22M795.5 405v23M795.5 429v22M795.5 452v23M795.5 476v22M795.5 499v22M795.5 522v23M795.5 546v22M795.5 569v22M795.5 592v23M795.5 616v22M795.5 639v18M797.5 278v10M797.5 289v22M797.5 312v9M798.5 321v13M798.5 335v9M799.5 344v20M800.5 364v15M801.5 379v16M802.5 395v7M803.5 402v12M804.5 414v8M805.5 35v6M805.5 422v8M805.5 651v6M806.5 430v7M807.5 437v8M808.5 445v4M809.5 449v8M810.5 457v4M811.5 461v4M812.5 465v4M813.5 469v3M814.5 472v8M815.5 35v6M815.5 480v3M815.5 651v6M816.5 483v2M817.5 485v3M818.5 488v4M819.5 492v4M820.5 496v4M821.5 500v3M822.5 503v2M823.5 505v2M824.5 507v3M825.5 35v6M825.5 510v2M825.5 651v6M826.5 512v3M827.5 515v3M828.5 518v2M829.5 520v2M830.5 522v2M831.5 524v3M831.5 668v7M832.5 527v3M832.5 667v1M833.5 530v2M834.5 35v6M834.5 532v2M834.5 651v6M835.5 534v2M835.5 667v1M835.5 674v1M836.5 536v2M836.5 668v1M836.5 672v2M836.5 687v2M837.5 538v2M837.5 669v3M837.5 686v1M837.5 689v1M838.5 540v1M838.5 690v1M839.5 541v1M840.5 542v2M840.5 675v1M841.5 544v1M841.5 686v1M841.5 689v2M842.5 545v2M843.5 547v2M843.5 670v3M844.5 35v12M844.5 549v2M844.5 645v12M844.5 668v2M844.5 673v2M844.5 686v4M845.5 551v2M845.5 667v1M845.5 690v1M846.5 553v1M847.5 554v2M848.5 556v1M848.5 667v1M848.5 674v1M848.5 690v1M849.5 557v1M849.5 668v6M849.5 686v1M849.5 689v1M850.5 558v2M851.5 560v1M852.5 561v1M852.5 669v1M852.5 673v2M852.5 686v6M853.5 562v2M853.5 667v2M854.5 35v6M854.5 564v1M854.5 651v6M855.5 565v1M856.5 566v2M857.5 568v1M857.5 671v1M857.5 674v1M857.5 686v6M858.5 569v1M858.5 672v2M859.5 570v1M860.5 571v1M861.5 572v1M861.5 686v6M862.5 573v2M863.5 575v1M864.5 35v6M864.5 576v1M864.5 651v6M864.5 689v1M865.5 577v1M865.5 690v1M866.5 578v1M867.5 579v1M868.5 580v1M868.5 684v1M869.5 581v2M869.5 683v1M869.5 690v1M870.5 583v1M870.5 687v3M871.5 584v1M872.5 585v1M873.5 586v1M874.5 35v6M874.5 587v1M874.5 651v6M875.5 588v1M876.5 589v1M877.5 590v1M878.5 591v1M879.5 592v1M880.5 593v1M880.5 670v3M880.5 682v10M881.5 594v1M881.5 667v3M881.5 673v2M882.5 595v1M883.5 596v1M883.5 681v2M883.5 685v7M884.5 35v6M884.5 651v6M885.5 667v1M885.5 674v1M886.5 598v1M886.5 668v6M886.5 686v4M887.5 599v1M887.5 690v1M888.5 600v1M889.5 675v1M891.5 602v1M891.5 686v4M891.5 691v3M892.5 603v1M894.5 35v12M894.5 645v12M896.5 666v1M896.5 669v7M897.5 606v1M898.5 607v1M901.5 609v1M901.5 670v3M902.5 610v1M902.5 667v3M902.5 673v2M902.5 683v2M902.5 686v6M903.5 35v6M903.5 611v1M903.5 651v6M906.5 613v1M906.5 667v1M906.5 674v1M906.5 687v5M907.5 614v1M907.5 668v6M910.5 616v1M911.5 687v2M912.5 686v1M912.5 689v2M913.5 35v6M913.5 618v1M913.5 651v6M916.5 620v1M916.5 686v4M919.5 622v1M919.5 687v2M920.5 686v1M920.5 689v2M923.5 35v6M923.5 651v6M923.5 690v1M924.5 686v1M924.5 689v1M926.5 626v1M928.5 682v3M928.5 686v5M929.5 628v1M929.5 670v3M930.5 668v2M930.5 673v2M931.5 667v1M932.5 630v1M932.5 681v1M932.5 685v7M933.5 35v6M933.5 651v6M934.5 667v1M934.5 674v1M935.5 668v6M935.5 687v2M936.5 686v1M936.5 689v2M939.5 634v1M939.5 675v1M939.5 690v1M940.5 686v1M940.5 689v1M941.5 687v2M943.5 35v12M943.5 645v12M944.5 686v6M945.5 666v1M945.5 669v7M948.5 686v6M950.5 673v1M951.5 667v3M951.5 674v1M953.5 35v6M953.5 651v6M956.5 671v4M963.5 35v6M963.5 651v6M972.5 35v6M972.5 651v6M982.5 35v6M982.5 651v2M982.5 655v2M990.5 35v19M990.5 55v22M990.5 78v23M990.5 102v22M990.5 125v22M990.5 148v23M990.5 172v22M990.5 195v22M990.5 218v23M990.5 242v22M990.5 265v23M990.5 289v22M990.5 312v22M990.5 335v23M990.5 359v22M990.5 382v22M990.5 405v23M990.5 429v22M990.5 452v23M990.5 476v22M990.5 499v22M990.5 522v23M990.5 546v22M990.5 569v22M990.5 592v23M990.5 616v22M990.5 639v18"/>
<path stroke="#f00" d="M305 35.5h2M305 41.5h2M305 47.5h2M305 53.5h2M305 58.5h2M305 64.5h2M145 67.5h2M183 67.5h3M192 67.5h2M200 67.5h2M158 68.5h2M167 68.5h2M176 68.5h2M194 68.5h2M157 69.5h3M167 69.5h2M85 70.5h3M106 70.5h3M111 70.5h2M119 70.5h2M305 70.5h2M84 71.5h2M98 71.5h2M104 71.5h2M117 71.5h2M121 71.5h2M132 71.5h9M182 71.5h5M190 71.5h5M77 72.5h2M126 72.5h2M202 72.5h2M77 73.5h2M126 73.5h2M164 73.5h7M172 73.5h8M200 73.5h2M75 74.5h2M126 74.5h2M132 74.5h9M85 76.5h4M118 76.5h5M144 76.5h4M182 76.5h5M191 76.5h4M199 76.5h4M305 76.5h2M207 78.5h2M305 81.5h2M305 87.5h2M345 88.5h6M363 88.5h2M405 88.5h2M318 91.5h2M326 91.5h2M334 91.5h2M339 91.5h2M368 91.5h4M383 91.5h2M392 91.5h2M397 91.5h2M402 91.5h4M316 92.5h2M320 92.5h2M324 92.5h2M328 92.5h2M332 92.5h2M347 92.5h4M370 92.5h2M381 92.5h2M385 92.5h2M390 92.5h2M395 92.5h2M399 92.5h2M305 93.5h2M336 93.5h2M317 97.5h4M325 97.5h4M345 97.5h5M351 97.5h10M367 97.5h5M373 97.5h13M396 97.5h4M305 99.5h2M305 104.5h2M305 110.5h2M305 116.5h2M305 122.5h2M305 127.5h2M305 133.5h2M305 139.5h2M305 145.5h2M305 150.5h2M305 156.5h2M305 161.5h2M305 167.5h2M305 173.5h2M305 179.5h2M305 184.5h2M305 190.5h2M305 196.5h2M305 202.5h2M305 207.5h2M305 213.5h2M305 219.5h2M305 225.5h2M305 230.5h2M305 236.5h2M305 242.5h2M305 248.5h2M305 253.5h2M305 259.5h2M305 265.5h2M305 271.5h2M305 276.5h2M305 282.5h2M305 287.5h2M305 293.5h2M305 299.5h2M305 305.5h2M305 310.5h2M305 316.5h2M305 322.5h2M305 328.5h2M305 333.5h2M305 339.5h2M305 345.5h2M305 351.5h2M305 356.5h2M305 362.5h2M305 368.5h2M305 374.5h2M305 379.5h2M305 385.5h2M305 391.5h2M305 397.5h2M305 402.5h2M305 408.5h2M305 413.5h2M305 419.5h2M305 425.5h2M305 431.5h2M305 436.5h2M305 442.5h2M305 448.5h2M305 454.5h2M305 459.5h2M305 465.5h2M305 471.5h2M305 477.5h2M305 482.5h2M305 488.5h2M305 494.5h2M305 500.5h2M305 505.5h2M305 511.5h2M305 517.5h2M305 523.5h2M305 528.5h2M305 534.5h2M305 539.5h2M305 545.5h2M305 551.5h2M305 557.5h2M305 562.5h2M305 568.5h2M305 574.5h2M305 580.5h2M305 585.5h2M305 591.5h2M305 597.5h2M305 603.5h2M305 608.5h2M63 611.5h4M305 611.5h7M67 612.5h14M312 612.5h14M81 613.5h14M326 613.5h14M95 614.5h14M340 614.5h14M109 615.5h14M354 615.5h14M123 616.5h14M368 616.5h14M137 617.5h13M382 617.5h13M150 618.5h14M395 618.5h14M164 619.5h14M409 619.5h14M178 620.5h14M423 620.5h14M192 621.5h14M437 621.5h14M206 622.5h14M451 622.5h14M220 623.5h7M465 623.5h7M472 626.5h2M478 631.5h2M481 637.5h2M71.5 67v10M74.5 70v2M75.5 72v2M76.5 75v2M77.5 70v2M78.5 74v1M79.5 75v2M80.5 72v3M81.5 70v2M83.5 73v2M84.5 72v1M84.5 75v1M88.5 71v1M88.5 75v1M98.5 72v1M99.5 68v3M99.5 73v5M100.5 67v1M100.5 78v1M101.5 65v2M101.5 79v1M104.5 70v1M104.5 72v5M108.5 71v1M109.5 72v5M110.5 71v1M113.5 71v6M116.5 73v2M117.5 72v1M117.5 75v1M122.5 70v1M122.5 72v4M124.5 70v1M124.5 76v1M125.5 71v1M125.5 75v1M128.5 71v1M128.5 75v1M129.5 70v1M129.5 76v1M143.5 69v7M144.5 68v1M147.5 68v1M147.5 75v1M148.5 69v1M148.5 73v2M149.5 70v3M152.5 76v1M159.5 67v1M159.5 70v7M165.5 71v2M166.5 70v1M168.5 67v1M168.5 70v3M168.5 74v3M173.5 72v1M174.5 71v1M175.5 69v2M177.5 67v1M177.5 69v4M177.5 74v3M181.5 69v1M181.5 72v4M182.5 68v1M182.5 70v1M186.5 68v3M186.5 72v1M186.5 75v1M187.5 73v2M190.5 69v2M190.5 72v4M191.5 68v1M195.5 69v1M195.5 72v4M198.5 69v3M198.5 75v1M199.5 68v1M199.5 72v1M202.5 68v1M203.5 69v3M203.5 73v3M206.5 65v1M206.5 79v1M207.5 66v1M208.5 67v1M209.5 68v10M227.5 624v1M228.5 625v2M229.5 627v1M230.5 628v1M231.5 629v1M232.5 630v1M233.5 631v2M234.5 633v1M235.5 634v1M236.5 635v1M237.5 636v1M238.5 637v2M239.5 639v1M240.5 640v1M241.5 641v1M242.5 642v2M243.5 644v1M245.5 646v1M246.5 647v1M247.5 648v2M249.5 651v1M250.5 652v1M251.5 653v1M252.5 654v2M253.5 656v1M305.5 36v5M305.5 42v5M305.5 48v5M305.5 54v4M305.5 59v5M305.5 65v5M305.5 71v5M305.5 77v4M305.5 82v5M305.5 88v5M305.5 94v5M305.5 100v4M305.5 105v5M305.5 111v5M305.5 117v5M305.5 123v4M305.5 128v5M305.5 134v5M305.5 140v5M305.5 146v4M305.5 151v5M305.5 157v4M305.5 162v5M305.5 168v5M305.5 174v5M305.5 180v4M305.5 185v5M305.5 191v5M305.5 197v5M305.5 203v4M305.5 208v5M305.5 214v5M305.5 220v5M305.5 226v4M305.5 231v5M305.5 237v5M305.5 243v5M305.5 249v4M305.5 254v5M305.5 260v5M305.5 266v5M305.5 272v4M305.5 277v5M305.5 283v4M305.5 288v5M305.5 294v5M305.5 300v5M305.5 306v4M305.5 311v5M305.5 317v5M305.5 323v5M305.5 329v4M305.5 334v5M305.5 340v5M305.5 346v5M305.5 352v4M305.5 357v5M305.5 363v5M305.5 369v5M305.5 375v4M305.5 380v5M305.5 386v5M305.5 392v5M305.5 398v4M305.5 403v5M305.5 409v4M305.5 414v5M305.5 420v5M305.5 426v5M305.5 432v4M305.5 437v5M305.5 443v5M305.5 449v5M305.5 455v4M305.5 460v5M305.5 466v5M305.5 472v5M305.5 478v4M305.5 483v5M305.5 489v5M305.5 495v5M305.5 501v4M305.5 506v5M305.5 512v5M305.5 518v5M305.5 524v4M305.5 529v5M305.5 535v4M305.5 540v5M305.5 546v5M305.5 552v5M305.5 558v4M305.5 563v5M305.5 569v5M305.5 575v5M305.5 581v4M305.5 586v5M305.5 592v5M305.5 598v5M305.5 604v4M305.5 609v2M305.5 615v1M306.5 614v1M307.5 36v1M307.5 40v1M307.5 48v1M307.5 52v1M307.5 59v1M307.5 63v1M307.5 71v1M307.5 75v1M307.5 82v1M307.5 86v1M307.5 94v1M307.5 98v1M307.5 105v1M307.5 109v1M307.5 117v1M307.5 121v1M307.5 128v1M307.5 132v1M307.5 140v1M307.5 144v1M307.5 151v1M307.5 155v1M307.5 162v1M307.5 166v1M307.5 174v1M307.5 178v1M307.5 185v1M307.5 189v1M307.5 197v1M307.5 201v1M307.5 208v1M307.5 212v1M307.5 220v1M307.5 224v1M307.5 231v1M307.5 235v1M307.5 243v1M307.5 247v1M307.5 254v1M307.5 258v1M307.5 266v1M307.5 270v1M307.5 277v1M307.5 281v1M307.5 288v1M307.5 292v1M307.5 300v1M307.5 304v1M307.5 311v1M307.5 315v1M307.5 323v1M307.5 327v1M307.5 334v1M307.5 338v1M307.5 346v1M307.5 350v1M307.5 357v1M307.5 361v1M307.5 369v1M307.5 373v1M307.5 380v1M307.5 384v1M307.5 392v1M307.5 396v1M307.5 403v1M307.5 407v1M307.5 414v1M307.5 418v1M307.5 426v1M307.5 430v1M307.5 437v1M307.5 441v1M307.5 449v1M307.5 453v1M307.5 460v1M307.5 464v1M307.5 472v1M307.5 476v1M307.5 483v1M307.5 487v1M307.5 495v1M307.5 499v1M307.5 506v1M307.5 510v1M307.5 518v1M307.5 522v1M307.5 529v1M307.5 533v1M307.5 540v1M307.5 544v1M307.5 552v1M307.5 556v1M307.5 563v1M307.5 567v1M307.5 575v1M307.5 579v1M307.5 586v1M307.5 590v1M307.5 598v1M307.5 602v1M307.5 609v1M307.5 613v1M308.5 37v1M308.5 39v1M308.5 49v1M308.5 51v1M308.5 60v1M308.5 62v1M308.5 72v1M308.5 74v1M308.5 83v1M308.5 85v1M308.5 95v1M308.5 97v1M308.5 106v1M308.5 108v1M308.5 118v1M308.5 120v1M308.5 129v1M308.5 131v1M308.5 141v1M308.5 143v1M308.5 152v1M308.5 154v1M308.5 163v1M308.5 165v1M308.5 175v1M308.5 177v1M308.5 186v1M308.5 188v1M308.5 198v1M308.5 200v1M308.5 209v1M308.5 211v1M308.5 221v1M308.5 223v1M308.5 232v1M308.5 234v1M308.5 244v1M308.5 246v1M308.5 255v1M308.5 257v1M308.5 267v1M308.5 269v1M308.5 278v1M308.5 280v1M308.5 289v1M308.5 291v1M308.5 301v1M308.5 303v1M308.5 312v1M308.5 314v1M308.5 324v1M308.5 326v1M308.5 335v1M308.5 337v1M308.5 347v1M308.5 349v1M308.5 358v1M308.5 360v1M308.5 370v1M308.5 372v1M308.5 381v1M308.5 383v1M308.5 393v1M308.5 395v1M308.5 404v1M308.5 406v1M308.5 415v1M308.5 417v1M308.5 427v1M308.5 429v1M308.5 438v1M308.5 440v1M308.5 450v1M308.5 452v1M308.5 461v1M308.5 463v1M308.5 473v1M308.5 475v1M308.5 484v1M308.5 486v1M308.5 496v1M308.5 498v1M308.5 507v1M308.5 509v1M308.5 519v1M308.5 521v1M308.5 530v1M308.5 532v1M308.5 541v1M308.5 543v1M308.5 553v1M308.5 555v1M308.5 564v1M308.5 566v1M308.5 576v1M308.5 578v1M308.5 587v1M308.5 589v1M308.5 599v1M308.5 601v1M308.5 610v1M308.5 612v1M309.5 38v1M309.5 50v1M309.5 61v1M309.5 73v1M309.5 84v1M309.5 96v1M309.5 107v1M309.5 119v1M309.5 130v1M309.5 142v1M309.5 153v1M309.5 164v1M309.5 176v1M309.5 187v1M309.5 199v1M309.5 210v1M309.5 222v1M309.5 233v1M309.5 245v1M309.5 256v1M309.5 268v1M309.5 279v1M309.5 290v1M309.5 302v1M309.5 313v1M309.5 325v1M309.5 336v1M309.5 348v1M309.5 359v1M309.5 371v1M309.5 382v1M309.5 394v1M309.5 405v1M309.5 416v1M309.5 428v1M309.5 439v1M309.5 451v1M309.5 462v1M309.5 474v1M309.5 485v1M309.5 497v1M309.5 508v1M309.5 520v1M309.5 531v1M309.5 542v1M309.5 554v1M309.5 565v1M309.5 577v1M309.5 588v1M309.5 600v1M316.5 93v4M321.5 96v1M324.5 93v4M329.5 96v1M332.5 91v1M332.5 93v5M336.5 92v1M336.5 94v4M338.5 92v1M341.5 92v6M344.5 95v1M345.5 96v1M348.5 91v1M349.5 89v2M350.5 93v4M360.5 88v9M363.5 89v1M363.5 91v7M366.5 94v2M367.5 92v2M367.5 96v1M371.5 93v4M371.5 98v3M381.5 91v1M381.5 93v4M381.5 98v3M386.5 93v1M386.5 96v1M387.5 94v2M390.5 91v1M390.5 93v5M395.5 93v4M400.5 93v4M404.5 89v2M404.5 92v6M468.5 622v1M468.5 624v1M469.5 621v1M469.5 625v1M470.5 620v1M470.5 626v1M471.5 619v1M471.5 627v1M472.5 620v1M472.5 624v1M473.5 621v1M473.5 625v1M474.5 622v1M474.5 624v1M474.5 627v1M475.5 623v1M475.5 628v1M476.5 629v1M476.5 634v1M477.5 630v1M477.5 633v1M477.5 635v1M478.5 632v1M478.5 636v1M479.5 633v1M479.5 637v1M480.5 630v1M480.5 634v1M480.5 638v1M481.5 631v1M481.5 635v1M482.5 632v1M482.5 636v1M483.5 633v1M483.5 635v1M483.5 638v1M484.5 634v1M484.5 639v1M485.5 640v1M486.5 641v1M486.5 646v1M487.5 642v2M487.5 645v1M487.5 647v1M488.5 644v1M488.5 648v1M489.5 643v1M489.5 645v1M489.5 649v1M490.5 642v1M490.5 646v1M490.5 650v1M491.5 643v1M491.5 647v1M491.5 649v1M492.5 644v1M492.5 648v1M493.5 645v1M493.5 647v1M493.5 649v1M494.5 646v1M494.5 650v1M495.5 651v2M496.5 653v1M496.5 657v1M497.5 654v1M497.5 656v1M498.5 655v1M499.5 654v1M499.5 656v1M500.5 653v1M500.5 657v1"/>
<path stroke="#00f" d="M345 67.5h6M359 67.5h2M387 67.5h2M318 70.5h2M326 70.5h2M334 70.5h2M339 70.5h2M365 70.5h2M373 70.5h2M384 70.5h4M392 70.5h3M398 70.5h2M406 70.5h2M316 71.5h2M320 71.5h2M324 71.5h2M328 71.5h2M332 71.5h2M347 71.5h4M363 71.5h2M367 71.5h2M371 71.5h2M390 71.5h3M396 71.5h2M400 71.5h2M404 71.5h2M408 71.5h2M336 72.5h2M370 73.5h7M317 76.5h4M325 76.5h4M345 76.5h5M351 76.5h10M364 76.5h4M372 76.5h4M377 76.5h10M397 76.5h5M405 76.5h4M94 88.5h2M159 88.5h3M172 88.5h2M179 88.5h6M187 88.5h7M198 88.5h2M215 88.5h2M207 89.5h2M207 90.5h2M73 91.5h2M78 91.5h2M99 91.5h4M121 91.5h2M125 91.5h3M133 91.5h2M71 92.5h2M80 92.5h2M98 92.5h2M119 92.5h2M123 92.5h2M131 92.5h2M135 92.5h2M147 92.5h8M158 92.5h5M181 92.5h4M217 92.5h2M223 92.5h2M141 93.5h2M174 93.5h2M216 93.5h3M76 94.5h6M141 94.5h2M172 94.5h2M204 94.5h7M141 95.5h2M147 95.5h8M77 97.5h4M82 97.5h10M99 97.5h4M132 97.5h5M158 97.5h5M171 97.5h4M179 97.5h5M197 97.5h4M213 97.5h5M114 99.5h2M60 611.5h3M63 612.5h4M67 613.5h4M71 614.5h4M75 615.5h4M79 616.5h4M83 617.5h4M87 618.5h4M91 619.5h4M95 620.5h4M305 620.5h2M99 621.5h4M103 622.5h4M107 623.5h4M111 624.5h4M115 625.5h4M119 626.5h4M305 626.5h2M123 627.5h4M127 628.5h4M131 629.5h4M135 630.5h4M139 631.5h4M305 631.5h2M143 632.5h4M147 633.5h4M151 634.5h6M157 635.5h8M165 636.5h9M174 637.5h8M305 637.5h2M182 638.5h9M191 639.5h8M199 640.5h9M208 641.5h8M216 642.5h9M225 643.5h8M305 643.5h2M233 644.5h9M242 645.5h8M250 646.5h5M252 647.5h2M305 649.5h2M248 650.5h2M244 653.5h2M305 654.5h2M240 656.5h2M60.5 35v576M71.5 91v1M71.5 93v5M76.5 95v1M77.5 92v2M77.5 96v1M81.5 93v1M81.5 96v1M91.5 88v9M94.5 89v1M94.5 91v7M97.5 94v2M98.5 93v1M98.5 96v1M102.5 92v5M102.5 98v3M113.5 89v10M114.5 88v1M115.5 87v1M116.5 86v1M116.5 100v1M119.5 91v1M119.5 93v5M123.5 93v5M127.5 92v1M128.5 93v5M131.5 93v4M136.5 91v1M136.5 93v4M139.5 91v1M139.5 97v1M140.5 92v1M140.5 96v1M143.5 92v1M143.5 96v1M144.5 91v1M144.5 97v1M157.5 94v2M158.5 89v3M158.5 93v1M158.5 96v1M162.5 89v1M162.5 91v1M163.5 90v1M163.5 93v4M167.5 97v1M170.5 90v3M170.5 96v1M171.5 89v1M171.5 93v1M174.5 89v1M175.5 90v3M175.5 94v3M178.5 95v1M179.5 96v1M182.5 91v1M183.5 89v2M184.5 93v4M189.5 96v2M190.5 94v2M191.5 92v2M192.5 90v2M193.5 89v1M195.5 92v3M196.5 90v2M196.5 95v2M197.5 89v1M200.5 89v1M200.5 96v1M201.5 90v6M205.5 92v2M206.5 91v1M208.5 88v1M208.5 91v3M208.5 95v3M212.5 91v1M213.5 90v1M213.5 92v1M213.5 96v1M214.5 89v1M214.5 93v1M215.5 94v1M217.5 89v2M217.5 95v2M218.5 91v1M218.5 94v1M221.5 86v2M221.5 100v1M222.5 88v1M222.5 99v1M223.5 89v3M223.5 94v5M224.5 93v1M239.5 657v1M242.5 655v1M243.5 654v1M246.5 652v1M247.5 651v1M250.5 649v1M251.5 648v1M305.5 612v3M305.5 616v4M305.5 621v5M305.5 627v4M305.5 632v5M305.5 638v5M305.5 644v5M305.5 650v4M305.5 655v3M307.5 621v1M307.5 625v1M307.5 632v1M307.5 636v1M307.5 644v1M307.5 648v1M307.5 655v1M308.5 622v1M308.5 624v1M308.5 633v1M308.5 635v1M308.5 645v1M308.5 647v1M308.5 656v1M309.5 623v1M309.5 634v1M309.5 646v1M309.5 657v1M316.5 72v4M321.5 75v1M324.5 72v4M329.5 75v1M332.5 70v1M332.5 72v5M336.5 71v1M336.5 73v4M338.5 71v1M341.5 71v6M344.5 74v1M345.5 75v1M348.5 70v1M349.5 68v2M350.5 72v4M360.5 68v1M360.5 70v6M363.5 72v4M368.5 75v1M370.5 74v1M371.5 72v1M371.5 75v1M375.5 71v1M376.5 72v1M376.5 75v1M386.5 68v2M386.5 71v5M390.5 70v1M390.5 72v5M395.5 73v2M396.5 72v1M396.5 75v1M401.5 70v1M401.5 72v4M404.5 72v4M409.5 75v1"/>
</svg>
</body></html>
